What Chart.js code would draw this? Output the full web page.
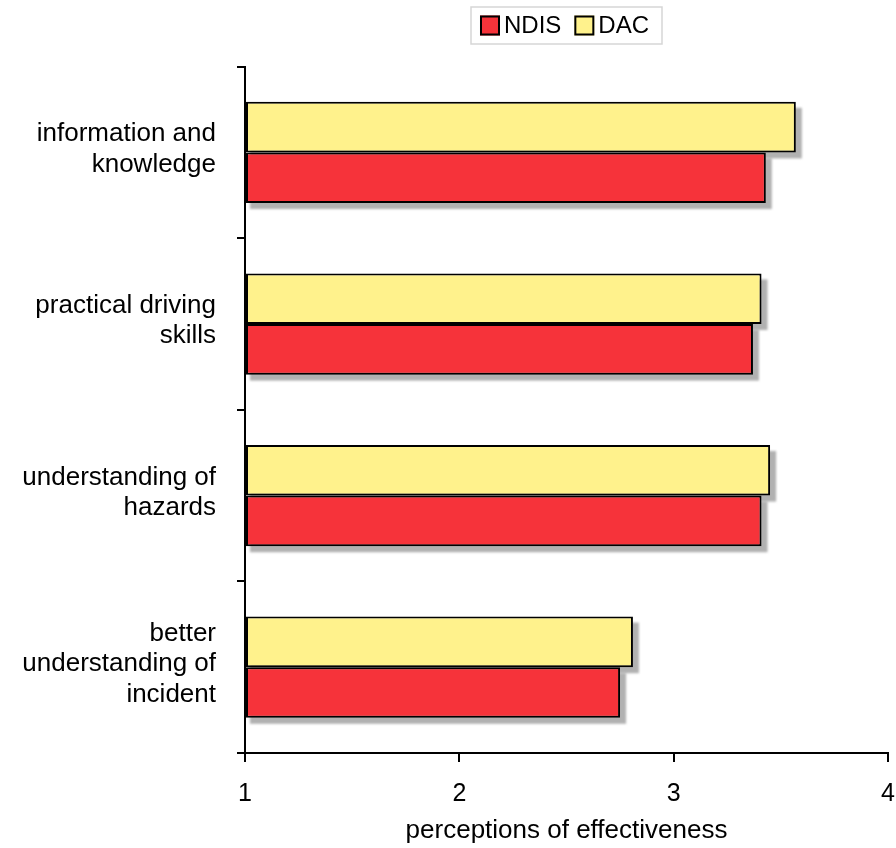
<!DOCTYPE html>
<html>
<head>
<meta charset="utf-8">
<script src="https://cdn.jsdelivr.net/npm/chart.js@4/dist/chart.umd.min.js"></script>
<style>
  html, body { margin: 0; padding: 0; background: #fff; }
  canvas { display: block; }
</style>
</head>
<body>
<canvas id="chart" width="896" height="848"></canvas>
<script>
// Training outcome categories (multi-line labels)
const categories = [
  ["information and", "knowledge"],
  ["practical driving", "skills"],
  ["understanding of", "hazards"],
  ["better", "understanding of", "incident"]
];
const seriesNames = ["NDIS", "DAC"];
const ndisValues = [3.43, 3.37, 3.41, 2.75];
const dacValues  = [3.57, 3.41, 3.45, 2.81];
const xTicks = [1, 2, 3, 4];
const axisTitle = "perceptions of effectiveness";

const FONT = '"Liberation Sans", Arial, Helvetica, sans-serif';
const RED = '#F6333A';
const YELLOW = '#FFF28C';

// Soft grey drop shadow under every bar, offset down and to the right
const barShadow = {
  id: 'barShadow',
  beforeDatasetsDraw(chart) {
    const ctx = chart.ctx;
    ctx.save();
    ctx.fillStyle = 'rgba(125,125,125,0.6)';
    ctx.filter = 'blur(1.2px)';
    chart.data.datasets.forEach((ds, i) => {
      chart.getDatasetMeta(i).data.forEach(el => {
        const p = el.getProps(['x', 'y', 'base', 'height'], true);
        const l = Math.min(p.x, p.base), r = Math.max(p.x, p.base);
        ctx.fillRect(l + 4, p.y - p.height / 2 + 6, r - l + 2, p.height);
      });
    });
    ctx.restore();
  }
};

// Framed legend centred over the plot area (NDIS first, then DAC)
const framedLegend = {
  id: 'framedLegend',
  afterDraw(chart) {
    const ctx = chart.ctx, ca = chart.chartArea;
    const order = seriesNames.map(n => chart.data.datasets.find(d => d.label === n));
    ctx.save();
    ctx.font = '24px ' + FONT;
    const box = 20, gap = 4, spacing = 13;
    const widths = order.map(d => ctx.measureText(d.label).width);
    const total = order.reduce((s, d, k) => s + box + gap + widths[k], 0) + spacing * (order.length - 1);
    const cx = (ca.left + ca.right) / 2 - 2;
    const top = 7, h = 37, cy = top + h / 2;
    ctx.strokeStyle = '#d6d6d6';
    ctx.lineWidth = 1.5;
    ctx.strokeRect(cx - total / 2 - 9, top, total + 22, h);
    let x = cx - total / 2;
    order.forEach((d, k) => {
      ctx.fillStyle = d.backgroundColor;
      ctx.fillRect(x, cy - box / 2, box, box);
      ctx.strokeStyle = '#000';
      ctx.lineWidth = 2;
      ctx.strokeRect(x + 1, cy - box / 2 + 1, box - 2, box - 2);
      ctx.fillStyle = '#000';
      ctx.textAlign = 'left';
      ctx.textBaseline = 'middle';
      ctx.fillText(d.label, x + box + gap, cy + 1);
      x += box + gap + widths[k] + spacing;
    });
    ctx.restore();
  }
};

new Chart(document.getElementById('chart'), {
  type: 'bar',
  data: {
    labels: categories,
    datasets: [
      { label: seriesNames[1], data: dacValues, base: xTicks[0], backgroundColor: YELLOW, borderColor: '#000', borderWidth: 2, borderSkipped: false },
      { label: seriesNames[0], data: ndisValues, base: xTicks[0], backgroundColor: RED, borderColor: '#000', borderWidth: 2, borderSkipped: false }
    ]
  },
  options: {
    indexAxis: 'y',
    responsive: false,
    animation: false,
    devicePixelRatio: 1,
    categoryPercentage: 0.59,
    barPercentage: 1.0,
    layout: { padding: { top: 62, left: 5, right: 0, bottom: 2 } },
    plugins: {
      legend: { display: false },
      tooltip: { enabled: false }
    },
    scales: {
      x: {
        min: xTicks[0],
        max: xTicks[xTicks.length - 1],
        afterBuildTicks(scale) { scale.ticks = xTicks.map(v => ({ value: v })); },
        afterFit(scale) { scale.height = 93; scale.paddingRight = 8; },
        ticks: { color: '#000', font: { family: FONT, size: 25 }, padding: 17 },
        grid: { drawOnChartArea: false, drawTicks: true, tickLength: 9, color: '#000', lineWidth: 2 },
        border: { display: true, color: '#000', width: 2 },
        title: {
          display: true,
          text: axisTitle,
          color: '#000',
          font: { family: FONT, size: 26 },
          padding: { top: 0, bottom: 0 }
        }
      },
      y: {
        offset: true,
        afterFit(scale) { scale.width = 240; },
        ticks: { color: '#000', font: { family: FONT, size: 26, lineHeight: 1.17 }, padding: 21, labelOffset: -3 },
        grid: { offset: true, drawOnChartArea: false, drawTicks: true, tickLength: 8, color: '#000', lineWidth: 2 },
        border: { display: true, color: '#000', width: 2 }
      }
    }
  },
  plugins: [barShadow, framedLegend]
});
</script>
</body>
</html>
